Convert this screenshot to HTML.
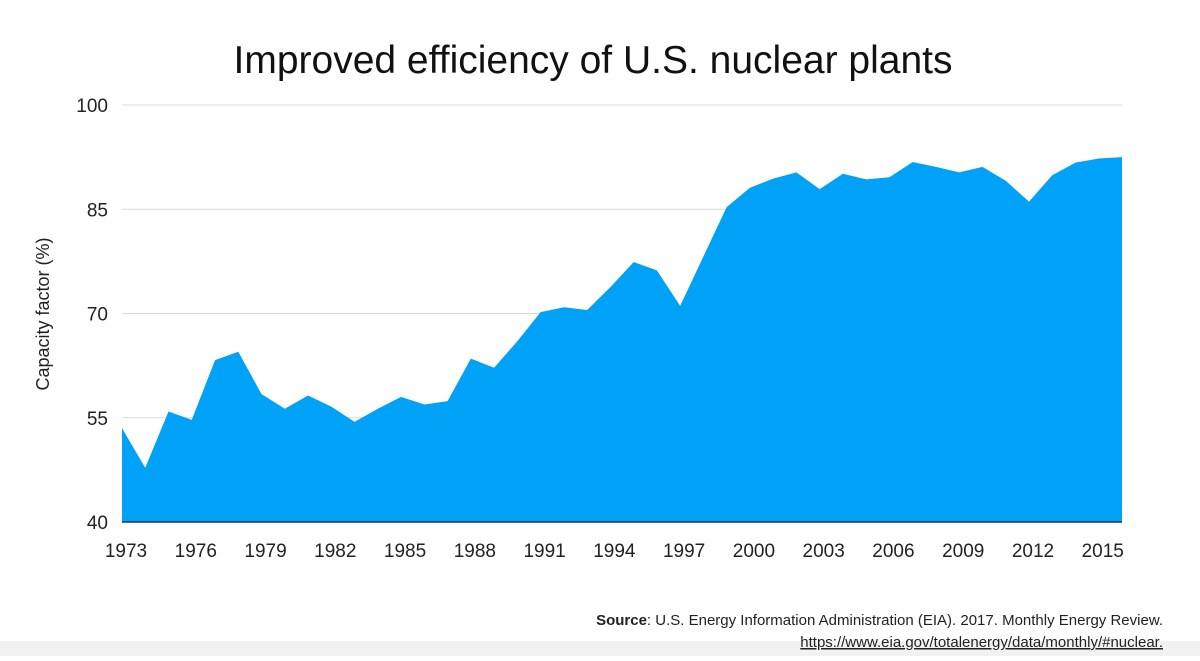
<!DOCTYPE html>
<html><head><meta charset="utf-8"><style>
body{margin:0;background:#fff;width:1200px;height:656px;overflow:hidden;font-family:"Liberation Sans",sans-serif;}
</style></head><body>
<svg width="1200" height="656" xmlns="http://www.w3.org/2000/svg">
<rect x="0" y="641" width="1200" height="15" fill="#f2f2f2"/>
<text x="593" y="73" text-anchor="middle" font-size="39" fill="#111">Improved efficiency of U.S. nuclear plants</text>
<g id="grid"></g>
<g id="plot"></g>
<g id="xt"></g>
<text transform="translate(49,314) rotate(-90)" text-anchor="middle" font-size="18" fill="#222">Capacity factor (%)</text>
<text x="1163" y="625" text-anchor="end" font-size="15" fill="#222"><tspan font-weight="bold">Source</tspan>: U.S. Energy Information Administration (EIA). 2017. Monthly Energy Review.</text>
<text x="1163" y="647" text-anchor="end" font-size="15" fill="#222" text-decoration="underline">https://www.eia.gov/totalenergy/data/monthly/#nuclear.</text>
</svg>
<script>
const years=[1973,1974,1975,1976,1977,1978,1979,1980,1981,1982,1983,1984,1985,1986,1987,1988,1989,1990,1991,1992,1993,1994,1995,1996,1997,1998,1999,2000,2001,2002,2003,2004,2005,2006,2007,2008,2009,2010,2011,2012,2013,2014,2015,2016];
const capacity=[53.5,47.8,55.9,54.7,63.3,64.5,58.4,56.3,58.2,56.6,54.4,56.3,58.0,56.9,57.4,63.5,62.2,66.0,70.2,70.9,70.5,73.8,77.4,76.2,71.1,78.2,85.3,88.1,89.4,90.3,87.9,90.1,89.3,89.6,91.8,91.1,90.3,91.1,89.1,86.1,89.9,91.7,92.3,92.5];
const yTicks=[40,55,70,85,100];
const xTicks=[1973,1976,1979,1982,1985,1988,1991,1994,1997,2000,2003,2006,2009,2012,2015];
const NS="http://www.w3.org/2000/svg";
const x0=122,x1=1122,yB=522,yT=105;
const xs=v=>x0+(v-1973)/(2016-1973)*(x1-x0);
const ys=v=>yB-(v-40)/60*(yB-yT);
function mk(t,a,p){const e=document.createElementNS(NS,t);for(const k in a)e.setAttribute(k,a[k]);p.appendChild(e);return e;}
const grid=document.getElementById('grid'),plot=document.getElementById('plot'),xt=document.getElementById('xt');
yTicks.forEach(v=>{
 if(v>40){const l=mk('line',{x1:x0,x2:x1,y1:ys(v),y2:ys(v),stroke:'#d9d9d9','stroke-width':1},grid);
 
 }
 const t=mk('text',{x:108,y:ys(v)+7,'text-anchor':'end','font-size':19,fill:'#222'},grid);
 t.textContent=v;
 
 
});
let d='M'+xs(years[0])+','+yB;
years.forEach((y,i)=>{d+=' L'+xs(y)+','+ys(capacity[i]);});
d+=' L'+xs(years[years.length-1])+','+yB+' Z';
const area=mk('path',{d:d,fill:'#00a2f7'},plot);


const base=mk('line',{x1:x0,x2:x1,y1:yB,y2:yB,stroke:'#1d3a50','stroke-width':1.5},plot);


xTicks.forEach(v=>{
 const t=mk('text',{x:xs(v)+4,y:557,'text-anchor':'middle','font-size':19,fill:'#222'},xt);
 t.textContent=v;
 
 
});
</script>
</body></html>
